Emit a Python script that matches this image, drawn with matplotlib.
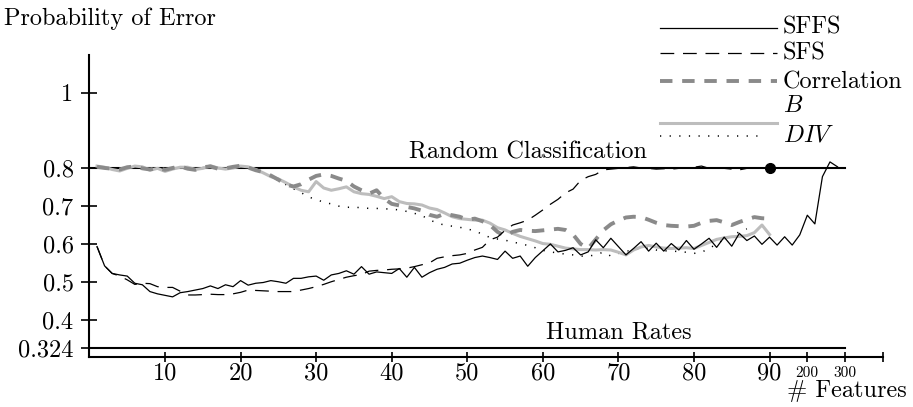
import numpy as np
import matplotlib.pyplot as plt
from matplotlib.lines import Line2D

plt.rcParams['font.family'] = 'cmr10'
plt.rcParams['mathtext.fontset'] = 'cm'
plt.rcParams['axes.unicode_minus'] = False

# number of features 1..90
features = np.arange(1, 91)

sffs = [0.593, 0.542, 0.522, 0.518, 0.515, 0.496, 0.492, 0.474, 0.468, 0.464,
        0.460, 0.471, 0.474, 0.478, 0.482, 0.489, 0.482, 0.492, 0.487, 0.503,
        0.491, 0.496, 0.498, 0.503, 0.500, 0.496, 0.509, 0.509, 0.513, 0.515,
        0.504, 0.518, 0.522, 0.529, 0.520, 0.540, 0.520, 0.526, 0.524, 0.522,
        0.535, 0.512, 0.538, 0.512, 0.524, 0.533, 0.538, 0.547, 0.549, 0.557,
        0.564, 0.568, 0.564, 0.559, 0.581, 0.562, 0.568, 0.541, 0.564, 0.582,
        0.600, 0.579, 0.583, 0.590, 0.571, 0.579, 0.611, 0.590, 0.615, 0.593,
        0.571, 0.588, 0.606, 0.581, 0.602, 0.581, 0.601, 0.584, 0.609, 0.586,
        0.600, 0.615, 0.591, 0.618, 0.594, 0.628, 0.609, 0.621, 0.599, 0.618]
# SFFS goes on past 90 features (compressed part of the axis)
sffs_tail_features = [112, 134, 156, 178, 200, 220, 240, 260, 280]
sffs_tail = [0.597, 0.619, 0.597, 0.624, 0.676, 0.653, 0.778, 0.817, 0.804]

sfs = [0.593, 0.542, 0.522, 0.515, 0.505, 0.493, 0.496, 0.495, 0.487, 0.485,
       0.485, 0.475, 0.465, 0.465, 0.466, 0.467, 0.466, 0.466, 0.468, 0.472,
       0.478, 0.477, 0.476, 0.475, 0.474, 0.474, 0.474, 0.478, 0.482, 0.487,
       0.493, 0.500, 0.506, 0.512, 0.516, 0.519, 0.528, 0.530, 0.531, 0.533,
       0.534, 0.536, 0.540, 0.545, 0.550, 0.562, 0.566, 0.569, 0.571, 0.575,
       0.584, 0.591, 0.611, 0.618, 0.636, 0.650, 0.656, 0.663, 0.676, 0.690,
       0.705, 0.718, 0.735, 0.745, 0.768, 0.778, 0.784, 0.796, 0.798, 0.800,
       0.802, 0.804, 0.801, 0.800, 0.798, 0.799, 0.798, 0.800, 0.800, 0.803,
       0.806, 0.800, 0.801, 0.800, 0.798, 0.796, 0.800, 0.800, 0.800, 0.800]

corr = [0.804, 0.801, 0.799, 0.797, 0.803, 0.805, 0.800, 0.797, 0.801, 0.796,
        0.801, 0.805, 0.799, 0.796, 0.803, 0.805, 0.799, 0.800, 0.804, 0.807,
        0.802, 0.795, 0.790, 0.781, 0.770, 0.757, 0.752, 0.758, 0.770, 0.780,
        0.784, 0.780, 0.773, 0.767, 0.752, 0.742, 0.733, 0.742, 0.720, 0.706,
        0.702, 0.698, 0.694, 0.688, 0.677, 0.672, 0.680, 0.676, 0.672, 0.664,
        0.667, 0.660, 0.650, 0.632, 0.621, 0.632, 0.637, 0.635, 0.634, 0.636,
        0.638, 0.640, 0.637, 0.625, 0.600, 0.588, 0.612, 0.636, 0.652, 0.662,
        0.670, 0.672, 0.671, 0.664, 0.656, 0.650, 0.648, 0.647, 0.646, 0.648,
        0.656, 0.661, 0.663, 0.657, 0.650, 0.658, 0.665, 0.671, 0.668, 0.667]

b_err = [0.806, 0.803, 0.797, 0.793, 0.800, 0.806, 0.804, 0.795, 0.800, 0.792,
         0.798, 0.803, 0.803, 0.797, 0.800, 0.807, 0.801, 0.798, 0.801, 0.806,
         0.804, 0.797, 0.788, 0.778, 0.772, 0.762, 0.751, 0.742, 0.738, 0.765,
         0.748, 0.742, 0.746, 0.751, 0.738, 0.733, 0.731, 0.726, 0.720, 0.725,
         0.712, 0.707, 0.706, 0.703, 0.695, 0.691, 0.682, 0.672, 0.667, 0.665,
         0.663, 0.663, 0.655, 0.643, 0.637, 0.628, 0.620, 0.614, 0.608, 0.601,
         0.599, 0.594, 0.589, 0.587, 0.585, 0.585, 0.584, 0.585, 0.584, 0.578,
         0.571, 0.584, 0.592, 0.596, 0.592, 0.589, 0.588, 0.589, 0.590, 0.588,
         0.596, 0.604, 0.612, 0.616, 0.619, 0.620, 0.622, 0.630, 0.650, 0.625]

div_features = np.arange(1, 88)
div = [0.802, 0.800, 0.801, 0.799, 0.802, 0.803, 0.800, 0.801, 0.799, 0.800,
       0.802, 0.801, 0.800, 0.801, 0.802, 0.803, 0.800, 0.801, 0.802, 0.804,
       0.800, 0.795, 0.790, 0.778, 0.768, 0.757, 0.746, 0.736, 0.724, 0.718,
       0.710, 0.706, 0.700, 0.697, 0.697, 0.696, 0.694, 0.694, 0.693, 0.692,
       0.690, 0.686, 0.681, 0.675, 0.664, 0.655, 0.650, 0.647, 0.644, 0.640,
       0.634, 0.626, 0.617, 0.613, 0.610, 0.605, 0.601, 0.596, 0.590, 0.583,
       0.579, 0.576, 0.573, 0.571, 0.568, 0.567, 0.572, 0.578, 0.568, 0.575,
       0.580, 0.585, 0.588, 0.589, 0.584, 0.582, 0.581, 0.580, 0.578, 0.575,
       0.578, 0.588, 0.600, 0.612, 0.622, 0.632, 0.640]

random_rate = 0.8
human_rate = 0.324
full_set = 90  # the dot on the random line

xtick_features = [10, 20, 30, 40, 50, 60, 70, 80, 90, 200, 300, 400]
xtick_labels = ['10', '20', '30', '40', '50', '60', '70', '80', '90', '200', '300', '']
ytick_vals = [0.324, 0.4, 0.5, 0.6, 0.7, 0.8, 1.0]
ytick_labels = ['0.324', '0.4', '0.5', '0.6', '0.7', '0.8', '1']


def to_axis(n):
    # x axis is broken after 90 features
    return np.interp(n, [0, 90, 200, 300, 400], [0, 90, 95, 100, 105])


fig = plt.figure(figsize=(9.13, 4.07), dpi=100)
ax = fig.add_axes([0.098, 0.122, 0.869, 0.743])

fs = 17.5

ax.axhline(random_rate, xmin=0, xmax=100 / 105, color='black', lw=1.5)
ax.axhline(human_rate, xmin=0, xmax=100 / 105, color='black', lw=1.5)

ax.plot(to_axis(div_features), div, color='black', lw=1.1, dashes=(0.8, 5.5))
ax.plot(to_axis(features), b_err, color='#bdbdbd', lw=2.2)
ax.plot(to_axis(features), corr, color='#8a8a8a', lw=2.8, dashes=(3.2, 2.5))
ax.plot(to_axis(features), sfs, color='black', lw=0.9, dashes=(11, 7))
ax.plot(to_axis(np.concatenate([features, sffs_tail_features])), sffs + sffs_tail,
        color='black', lw=0.9)
ax.plot(to_axis(full_set), random_rate, 'o', color='black', ms=7)

ax.text(58, 0.827, 'Random Classification', ha='center', va='baseline', fontsize=fs)
ax.text(70, 0.351, 'Human Rates', ha='center', va='baseline', fontsize=fs)

ax.set_xlim(0, 105)
ax.set_ylim(0.3, 1.1)
ax.set_xticks(to_axis(xtick_features))
ax.set_xticklabels(xtick_labels, fontsize=fs)
for i, lab in enumerate(ax.get_xticklabels()):
    lab.set_va('center')
    if i in (9, 10):
        lab.set_fontsize(11)
ax.set_yticks(ytick_vals)
ax.set_yticklabels(ytick_labels, fontsize=fs)
ax.tick_params(axis='x', direction='inout', length=7, width=1.2, pad=8)
ax.tick_params(axis='y', direction='inout', length=11, width=1.2, pad=6)

for s in ['top', 'right']:
    ax.spines[s].set_visible(False)
for s in ['left', 'bottom']:
    ax.spines[s].set_linewidth(1.5)

fig.text(4 / 913, 1 - 25 / 407, 'Probability of Error', fontsize=fs, va='baseline')
fig.text(787 / 913, 1 - 397 / 407, '# Features', fontsize=fs, va='baseline')

# legend drawn by hand, like the original
W, H = 913, 407
leg = [
    (28.3, 34, 'SFFS', dict(color='black', lw=0.9)),
    (53.3, 60, 'SFS', dict(color='black', lw=0.9, dashes=(11, 7))),
    (81, 88.3, 'Correlation', dict(color='#8a8a8a', lw=2.8, dashes=(3.2, 2.5))),
    (123.3, 111.7, r'$B$', dict(color='#bdbdbd', lw=2.2)),
    (136, 141.7, r'$DIV$', dict(color='black', lw=1.1, dashes=(0.8, 5.5))),
]
for ly, ty, name, style in leg:
    x1 = 762 if name == r'$DIV$' else 777
    fig.add_artist(Line2D([660 / W, x1 / W], [1 - ly / H, 1 - ly / H],
                          transform=fig.transFigure, **style))
    fig.text(783 / W, 1 - ty / H, name, fontsize=fs, va='baseline')

fig.savefig('out.png', dpi=100)
